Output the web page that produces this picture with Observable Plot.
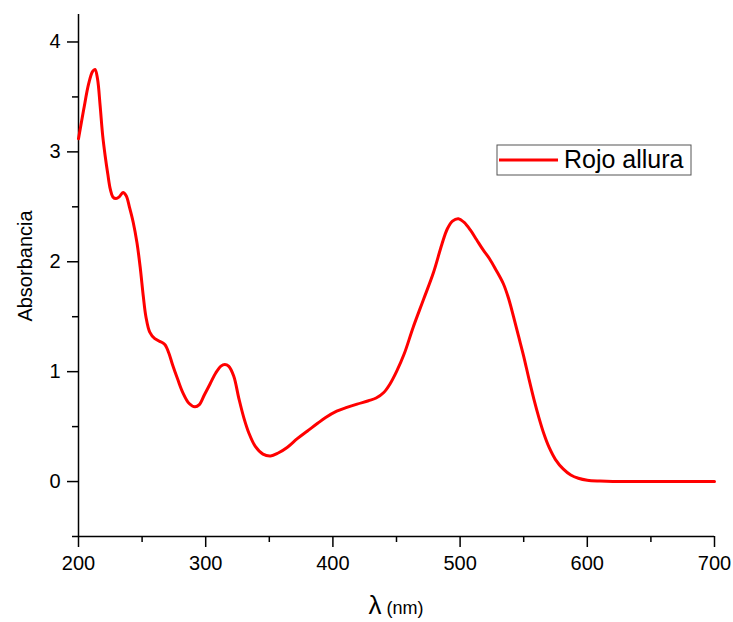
<!DOCTYPE html>
<html>
<head>
<meta charset="utf-8">
<script src="https://cdn.jsdelivr.net/npm/d3@7"></script>
<script src="https://cdn.jsdelivr.net/npm/@observablehq/plot@0.6"></script>
<style>
  body { margin: 0; background: #fff; }
  #chart { width: 733px; height: 622px; }
</style>
</head>
<body>
<div id="chart"></div>
<script>
const wavelengths = [200, 204, 208, 211, 213, 215, 217, 219, 221, 223, 225, 227, 229.5, 232, 235, 237.5, 240, 243, 246, 248.5, 251, 253, 256, 260, 265, 268, 271, 274, 278, 282, 287, 291.5, 295, 299, 303.5, 308, 312, 315, 318, 322, 326, 330, 334, 339, 345, 351, 357, 364, 372, 380, 388, 394, 403, 411, 419, 428, 434, 440, 445, 450, 456, 463, 471, 479, 485.7, 490, 494, 498.7, 503, 508, 513, 518, 523, 528, 534, 538, 542, 546, 550, 554, 558, 562, 566, 570, 575, 581, 587, 593, 600, 610, 620, 650, 700];
const absorbance = [3.12, 3.38, 3.62, 3.73, 3.75, 3.66, 3.42, 3.15, 2.96, 2.80, 2.66, 2.59, 2.575, 2.59, 2.63, 2.60, 2.50, 2.36, 2.17, 1.95, 1.68, 1.50, 1.36, 1.30, 1.27, 1.245, 1.17, 1.06, 0.93, 0.81, 0.71, 0.68, 0.70, 0.79, 0.89, 0.99, 1.05, 1.065, 1.05, 0.96, 0.76, 0.58, 0.44, 0.32, 0.25, 0.233, 0.26, 0.31, 0.39, 0.46, 0.53, 0.58, 0.64, 0.675, 0.705, 0.735, 0.76, 0.81, 0.89, 1.00, 1.16, 1.40, 1.65, 1.90, 2.16, 2.30, 2.37, 2.392, 2.36, 2.29, 2.20, 2.11, 2.03, 1.93, 1.80, 1.67, 1.50, 1.32, 1.14, 0.94, 0.75, 0.58, 0.43, 0.31, 0.20, 0.115, 0.06, 0.03, 0.012, 0.004, 0.0, 0.0, 0.0];
const seriesName = "Rojo allura";
const xMajorTicks = [200, 300, 400, 500, 600, 700];
const xMinorTicks = [250, 350, 450, 550, 650];
const yMajorTicks = [0, 1, 2, 3, 4];
const yMinorTicks = [-0.5, 0.5, 1.5, 2.5, 3.5];
const yLabel = "Absorbancia";
const xLabelSymbol = "λ";
const xLabelUnit = " (nm)";

const data = wavelengths.map((w, i) => ({wl: w, A: absorbance[i]}));
const font = "'Liberation Sans', Arial, sans-serif";

const chart = Plot.plot({
  width: 733,
  height: 622,
  marginLeft: 78,
  marginRight: 19,
  marginTop: 14,
  marginBottom: 86,
  style: {fontFamily: font, fontSize: "20px", background: "white", color: "black", overflow: "visible"},
  x: {domain: [200, 700]},
  y: {domain: [-0.5, 4.25]},
  marks: [
    Plot.axisX({ticks: xMajorTicks, tickSize: 11, tickPadding: 8, fontSize: 20, tickFormat: d => String(d), label: null, strokeWidth: 1.5, strokeOpacity: 1}),
    Plot.axisX({ticks: xMinorTicks, tickSize: 6, tickFormat: () => "", label: null, strokeWidth: 1.5, strokeOpacity: 1}),
    Plot.axisY({ticks: yMajorTicks, tickSize: 11, tickPadding: 7, fontSize: 20, tickFormat: d => String(d), label: null, strokeWidth: 1.5, strokeOpacity: 1}),
    Plot.axisY({ticks: yMinorTicks, tickSize: 6, tickFormat: () => "", label: null, strokeWidth: 1.5, strokeOpacity: 1}),
    Plot.ruleX([200], {stroke: "black", strokeWidth: 1.5}),
    Plot.ruleY([-0.5], {stroke: "black", strokeWidth: 1.5}),
    Plot.line(data, {x: "wl", y: "A", stroke: "#ff0000", strokeWidth: 3, curve: "catmull-rom"})
  ]
});

const svg = d3.select(chart);
// y-axis title
svg.append("text")
  .attr("transform", "translate(32,266) rotate(-90)")
  .attr("text-anchor", "middle")
  .attr("font-family", font)
  .attr("font-size", 20)
  .attr("fill", "black")
  .text(yLabel);
// x-axis title
const xt = svg.append("text")
  .attr("x", 396)
  .attr("y", 614)
  .attr("text-anchor", "middle")
  .attr("font-family", font)
  .attr("fill", "black");
xt.append("tspan").attr("font-size", 26).text(xLabelSymbol);
xt.append("tspan").attr("font-size", 18).text(xLabelUnit);
// legend
const lg = svg.append("g");
lg.append("rect").attr("x", 497).attr("y", 145).attr("width", 194).attr("height", 30)
  .attr("fill", "white").attr("stroke", "#555").attr("stroke-width", 1);
lg.append("line").attr("x1", 499).attr("x2", 558).attr("y1", 160).attr("y2", 160)
  .attr("stroke", "#ff0000").attr("stroke-width", 3);
lg.append("text").attr("x", 564).attr("y", 168)
  .attr("text-anchor", "start")
  .attr("font-family", font).attr("font-size", 25).attr("fill", "black")
  .text(seriesName);

document.getElementById("chart").appendChild(chart);
</script>
</body>
</html>
